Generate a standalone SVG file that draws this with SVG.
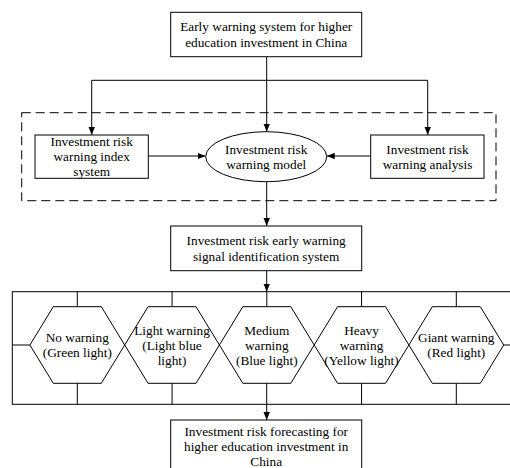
<svg xmlns="http://www.w3.org/2000/svg" width="510" height="468" viewBox="0 0 510 468">
<style>
.box{fill:#fff;stroke:#000;stroke-width:1}
.ln{fill:none;stroke:#000;stroke-width:1}
.dash{fill:none;stroke:#000;stroke-width:1;stroke-dasharray:9,5}
text{font-family:"Liberation Serif","Times New Roman",serif;font-size:13.3px;fill:#000;text-anchor:middle}
</style>
<defs>
<marker id="ah" viewBox="0 0 8 8" refX="8" refY="4" markerWidth="8" markerHeight="8" markerUnits="userSpaceOnUse" orient="auto">
<path d="M0,0.8 L8,4 L0,7.2 Z" fill="#000"/>
</marker>
</defs>
<rect width="510" height="468" fill="#fff"/>
<rect class="dash" x="21.7" y="112.7" width="474.3" height="88"/>
<g id="connectors">
<line class="ln" x1="266.7" y1="57" x2="266.7" y2="131.7" marker-end="url(#ah)"/>
<line class="ln" x1="91.7" y1="80.3" x2="427.7" y2="80.3"/>
<line class="ln" x1="91.7" y1="80.3" x2="91.7" y2="135" marker-end="url(#ah)"/>
<line class="ln" x1="427.7" y1="80.3" x2="427.7" y2="135" marker-end="url(#ah)"/>
<line class="ln" x1="148.3" y1="156" x2="205.7" y2="156" marker-end="url(#ah)"/>
<line class="ln" x1="370.7" y1="156" x2="326.7" y2="156" marker-end="url(#ah)"/>
<line class="ln" x1="266.7" y1="182" x2="266.7" y2="226" marker-end="url(#ah)"/>
<line class="ln" x1="266.7" y1="271" x2="266.7" y2="291.7" marker-end="url(#ah)"/>
<line class="ln" x1="266.7" y1="383.3" x2="266.7" y2="420" marker-end="url(#ah)"/>
<rect class="ln" x="12.3" y="291.7" width="500" height="112.6"/>
<line class="ln" x1="12.3" y1="345" x2="29.9" y2="345"/>
<line class="ln" x1="503.7" y1="345" x2="512" y2="345"/>
<path class="ln" d="M77.3,291.7V306.7M172.05,291.7V306.7M266.8,291.7V306.7M361.55,291.7V306.7M456.3,291.7V306.7M77.3,383.3V404.3M172.05,383.3V404.3M361.55,383.3V404.3M456.3,383.3V404.3"/>
</g>
<g id="top">
<rect class="box" x="170.7" y="12.3" width="191" height="44.4"/>
<text x="266.2" y="31">Early warning system for higher</text>
<text x="266.2" y="47">education investment in China</text>
</g>
<g id="index">
<rect class="box" x="35" y="135" width="113.3" height="43.3"/>
<text x="91.7" y="146">Investment risk</text>
<text x="91.7" y="161">warning index</text>
<text x="91.7" y="176">system</text>
</g>
<g id="model">
<ellipse class="box" cx="266.2" cy="156.7" rx="60.5" ry="25"/>
<text x="266.2" y="154">Investment risk</text>
<text x="266.2" y="169">warning model</text>
</g>
<g id="analysis">
<rect class="box" x="370.7" y="135" width="113.3" height="43.3"/>
<text x="427.5" y="154">Investment risk</text>
<text x="427.5" y="169">warning analysis</text>
</g>
<g id="signal">
<rect class="box" x="170.7" y="226" width="191" height="44.7"/>
<text x="266.2" y="245">Investment risk early warning</text>
<text x="266.2" y="261">signal identification system</text>
</g>
<g id="h1">
<polygon class="box" points="29.9,345 53.3,306.7 101.3,306.7 124.7,345 101.3,383.3 53.3,383.3"/>
<text x="77.3" y="342">No warning</text>
<text x="77.3" y="357">(Green light)</text>
</g>
<g id="h2">
<polygon class="box" points="124.7,345 148.05,306.7 196.05,306.7 219.4,345 196.05,383.3 148.05,383.3"/>
<text x="172.05" y="334.5">Light warning</text>
<text x="172.05" y="349.5">(Light blue</text>
<text x="172.05" y="364.5">light)</text>
</g>
<g id="h3">
<polygon class="box" points="219.4,345 242.8,306.7 290.8,306.7 314.2,345 290.8,383.3 242.8,383.3"/>
<text x="266.8" y="334.5">Medium</text>
<text x="266.8" y="349.5">warning</text>
<text x="266.8" y="364.5">(Blue light)</text>
</g>
<g id="h4">
<polygon class="box" points="314.2,345 337.55,306.7 385.55,306.7 408.9,345 385.55,383.3 337.55,383.3"/>
<text x="361.55" y="334.5">Heavy</text>
<text x="361.55" y="349.5">warning</text>
<text x="361.55" y="364.5">(Yellow light)</text>
</g>
<g id="h5">
<polygon class="box" points="408.9,345 432.3,306.7 480.3,306.7 503.7,345 480.3,383.3 432.3,383.3"/>
<text x="456.3" y="342">Giant warning</text>
<text x="456.3" y="357">(Red light)</text>
</g>
<g id="forecast">
<rect class="box" x="170.7" y="420" width="191" height="60"/>
<text x="266.2" y="436">Investment risk forecasting for</text>
<text x="266.2" y="451">higher education investment in</text>
<text x="266.2" y="466">China</text>
</g>
</svg>
